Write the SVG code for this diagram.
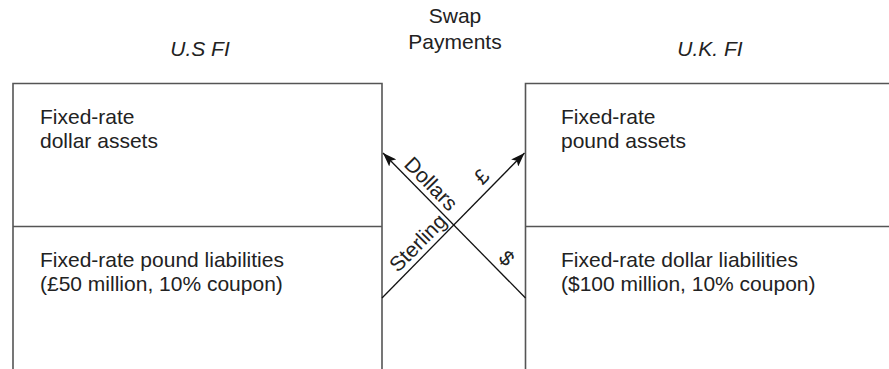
<svg xmlns="http://www.w3.org/2000/svg" width="889" height="369" viewBox="0 0 889 369">
<style>
  .t { font-family: "Liberation Sans", Arial, sans-serif; font-size: 21px; fill: #222; }
  .it { font-style: italic; }
  .box { fill: none; stroke: #555; stroke-width: 1.6; }
  .conn { stroke: #111; stroke-width: 1.3; fill: none; }
</style>
<defs>
  <marker id="arr" viewBox="0 0 14 10" refX="14" refY="5" markerWidth="14" markerHeight="10" markerUnits="userSpaceOnUse" orient="auto">
    <path d="M0,0 L14,5 L0,10 L3,5 Z" fill="#111"/>
  </marker>
</defs>
<rect width="889" height="369" fill="#fff"/>
<g id="titles">
  <text class="t it" x="200" y="56" text-anchor="middle">U.S FI</text>
  <text class="t" x="455" y="23" text-anchor="middle">Swap</text>
  <text class="t" x="455" y="49" text-anchor="middle">Payments</text>
  <text class="t it" x="710" y="56" text-anchor="middle">U.K. FI</text>
</g>
<g id="us-fi">
  <path class="box" d="M13,369 L13,83.5 L382,83.5 L382,369 M13,226.5 L382,226.5"/>
  <text class="t" x="40" y="124">Fixed-rate</text>
  <text class="t" x="40" y="148">dollar assets</text>
  <text class="t" x="40" y="267">Fixed-rate pound liabilities</text>
  <text class="t" x="40" y="291">(£50 million, 10% coupon)</text>
</g>
<g id="uk-fi">
  <path class="box" d="M525.5,369 L525.5,83.5 L889,83.5 M525.5,226.5 L889,226.5"/>
  <text class="t" x="561" y="124">Fixed-rate</text>
  <text class="t" x="561" y="148">pound assets</text>
  <text class="t" x="561" y="267">Fixed-rate dollar liabilities</text>
  <text class="t" x="561" y="291">($100 million, 10% coupon)</text>
</g>
<g id="connectors">
  <line class="conn" x1="525.5" y1="298" x2="383" y2="153" marker-end="url(#arr)"/>
  <line class="conn" x1="382" y1="298" x2="524.5" y2="153" marker-end="url(#arr)"/>
  <text class="t" transform="translate(431,184) rotate(45.5)" x="0" y="7" text-anchor="middle">Dollars</text>
  <text class="t" transform="translate(506.7,258.3) rotate(45.5)" x="0" y="7" text-anchor="middle">$</text>
  <text class="t" transform="translate(418,243) rotate(-45.5)" x="0" y="7" text-anchor="middle">Sterling</text>
  <text class="t" transform="translate(481.7,176.7) rotate(-45.5)" x="0" y="7" text-anchor="middle">£</text>
</g>
</svg>
